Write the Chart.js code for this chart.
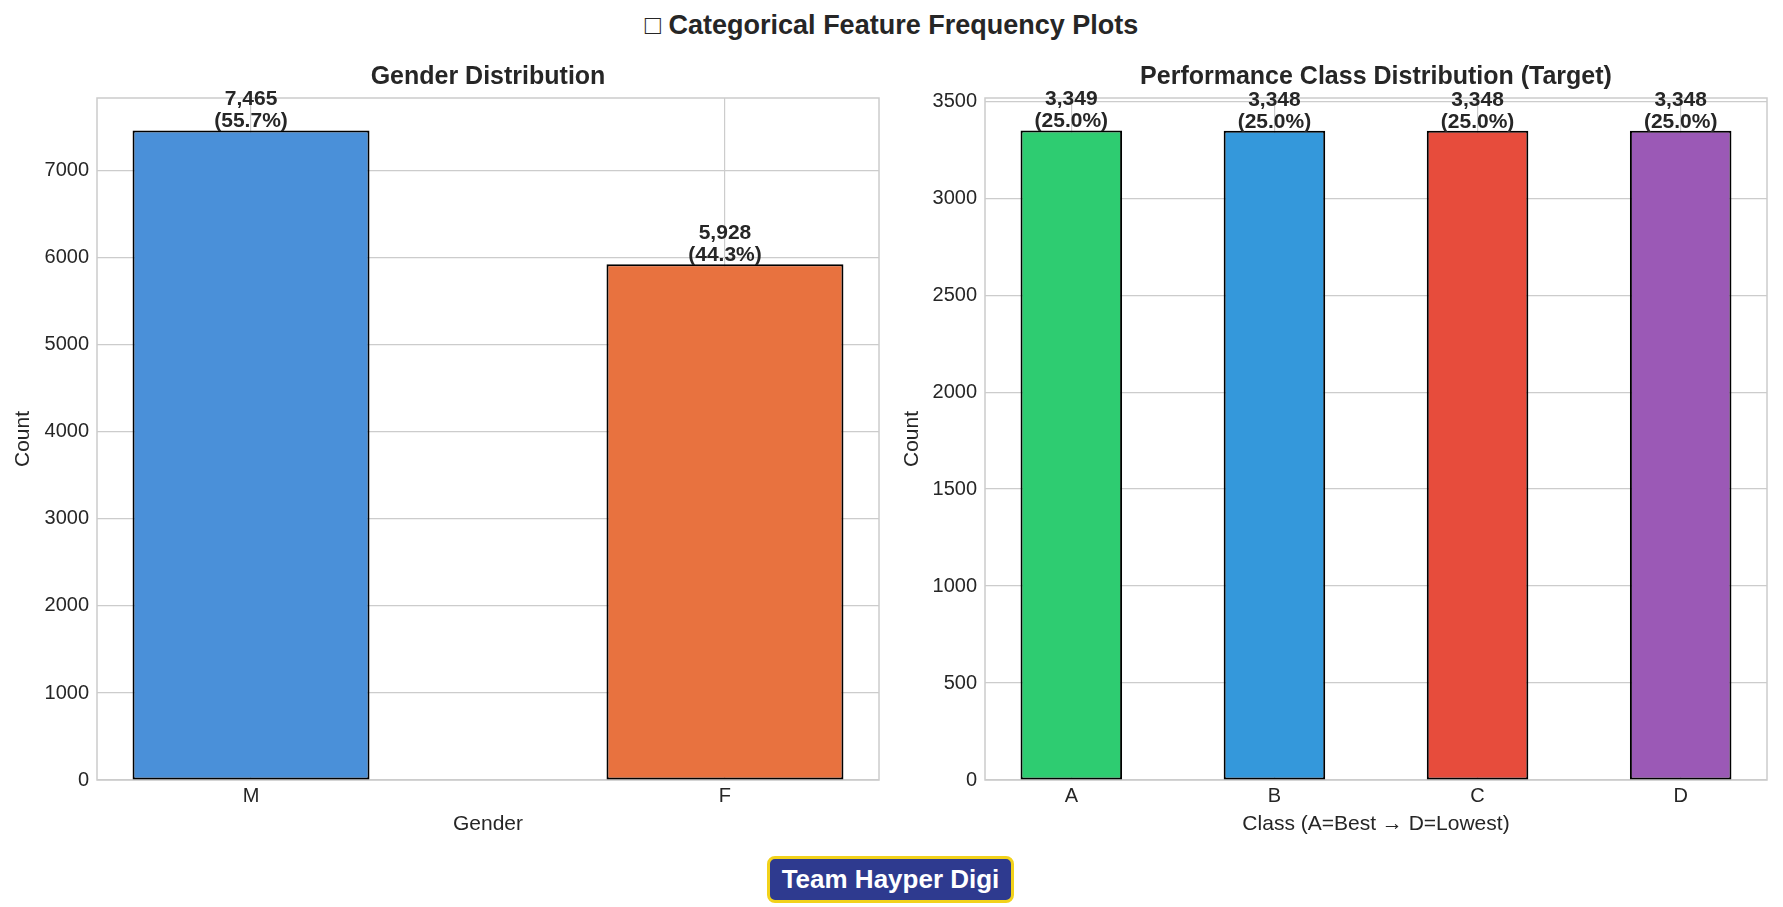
<!DOCTYPE html>
<html>
<head>
<meta charset="utf-8">
<title>Categorical Feature Frequency Plots</title>
<script src="https://cdn.jsdelivr.net/npm/chart.js"></script>
<style>
  html, body { margin: 0; padding: 0; background: #fff; width: 1783px; height: 907px; overflow: hidden;
    font-family: "Liberation Sans", Arial, sans-serif; }
  #suptitle { position: absolute; left: 0; top: 9px; width: 1783px; text-align: center;
    font-weight: bold; font-size: 27px; line-height: 32px; color: #262626; }
  .plot { position: absolute; top: 0; height: 907px; }
  #badge { position: absolute; left: 767px; top: 856px; width: 247px; height: 47px; box-sizing: border-box;
    background: #2e3a8f; border: 3px solid #f2d21b; border-radius: 8px; color: #fff;
    font-weight: bold; font-size: 26px; line-height: 41px; text-align: center; }
</style>
</head>
<body>
<div id="suptitle">□ Categorical Feature Frequency Plots</div>
<div class="plot" style="left:0;width:891px"><canvas id="genderChart"></canvas></div>
<div class="plot" style="left:891px;width:892px"><canvas id="classChart"></canvas></div>
<div id="badge">Team Hayper Digi</div>

<script>
// data
const genderLabels = ['M', 'F'];
const genderCounts = [7465, 5928];
const genderColors = ['#4a90d9', '#e8723f'];

const classLabels = ['A', 'B', 'C', 'D'];
const classCounts = [3349, 3348, 3348, 3348];
const classColors = ['#2ecc71', '#3498db', '#e74c3c', '#9b59b6'];

const textColor = '#262626';
const gridColor = '#cccccc';
const fontFamily = '"Liberation Sans", Arial, sans-serif';

// value + percent labels on top of each bar
const barLabels = {
    id: 'barLabels',
    afterDatasetsDraw(chart) {
        const ctx = chart.ctx;
        const values = chart.data.datasets[0].data.map(d => d.y);
        const total = values.reduce((a, b) => a + b, 0);
        ctx.save();
        ctx.fillStyle = textColor;
        ctx.font = 'bold 21px ' + fontFamily;
        ctx.textAlign = 'center';
        ctx.textBaseline = 'alphabetic';
        chart.getDatasetMeta(0).data.forEach((bar, i) => {
            const v = values[i];
            const pct = (v / total * 100).toFixed(1);
            ctx.fillText(v.toLocaleString('en-US'), bar.x, bar.y - 25);
            ctx.fillText('(' + pct + '%)', bar.x, bar.y - 3);
        });
        ctx.restore();
    }
};

// light frame around the axes + subplot title centred over the axes
const frame = {
    id: 'frame',
    beforeDatasetsDraw(chart) {
        const a = chart.chartArea;
        const ctx = chart.ctx;
        ctx.save();
        ctx.strokeStyle = gridColor;
        ctx.lineWidth = 1.5;
        ctx.strokeRect(a.left, a.top, a.right - a.left, a.bottom - a.top);
        ctx.fillStyle = textColor;
        ctx.font = 'bold 25px ' + fontFamily;
        ctx.textAlign = 'center';
        ctx.textBaseline = 'middle';
        ctx.fillText(chart.options.subTitle, (a.left + a.right) / 2, 77);
        ctx.restore();
    }
};

function makeChart(id, title, xTitle, labels, counts, colors, step, yWidth, yTitlePad, rightPad) {
    const barWidth = 0.5;
    const span = labels.length - 1 + barWidth;
    const xMin = -barWidth / 2 - 0.05 * span;
    const xMax = labels.length - 1 + barWidth / 2 + 0.05 * span;
    const yMax = Math.max(...counts) * 1.05;

    return new Chart(document.getElementById(id), {
        type: 'bar',
        data: {
            datasets: [{
                data: counts.map((v, i) => ({ x: i, y: v })),
                backgroundColor: colors,
                borderColor: '#000000',
                borderWidth: 2,
                borderSkipped: false,
                barPercentage: barWidth,
                categoryPercentage: 1.0
            }]
        },
        options: {
            subTitle: title,
            responsive: true,
            maintainAspectRatio: false,
            animation: false,
            layout: { padding: { left: 0, right: rightPad, top: 98, bottom: 66.4 } },
            plugins: {
                legend: { display: false },
                tooltip: { enabled: false },
                title: { display: false }
            },
            scales: {
                x: {
                    type: 'linear',
                    offset: false,
                    min: xMin,
                    max: xMax,
                    afterBuildTicks: axis => { axis.ticks = labels.map((l, i) => ({ value: i })); },
                    afterFit: axis => { axis.height = 60.6; },
                    ticks: {
                        callback: v => labels[v],
                        color: textColor,
                        font: { family: fontFamily, size: 20 },
                        padding: 4,
                        maxRotation: 0
                    },
                    grid: { color: gridColor, lineWidth: 1.2, drawTicks: false, offset: false },
                    border: { display: false },
                    title: {
                        display: true,
                        text: xTitle,
                        color: textColor,
                        font: { family: fontFamily, size: 21 },
                        padding: { top: 4, bottom: 4 }
                    }
                },
                y: {
                    min: 0,
                    max: yMax,
                    afterBuildTicks: axis => {
                        const ticks = [];
                        for (let v = 0; v <= yMax; v += step) ticks.push({ value: v });
                        axis.ticks = ticks;
                    },
                    afterFit: axis => { axis.width = yWidth; },
                    ticks: {
                        callback: v => String(v),
                        color: textColor,
                        font: { family: fontFamily, size: 20 },
                        padding: 8
                    },
                    grid: { color: gridColor, lineWidth: 1.2, drawTicks: false },
                    border: { display: false },
                    title: {
                        display: true,
                        text: 'Count',
                        color: textColor,
                        font: { family: fontFamily, size: 21 },
                        padding: { top: yTitlePad, bottom: 4 }
                    }
                }
            }
        },
        plugins: [frame, barLabels]
    });
}

makeChart('genderChart', 'Gender Distribution', 'Gender',
    genderLabels, genderCounts, genderColors, 1000, 97, 10.4, 12);
makeChart('classChart', 'Performance Class Distribution (Target)', 'Class (A=Best \u2192 D=Lowest)',
    classLabels, classCounts, classColors, 500, 94, 8.4, 16);
</script>
</body>
</html>
